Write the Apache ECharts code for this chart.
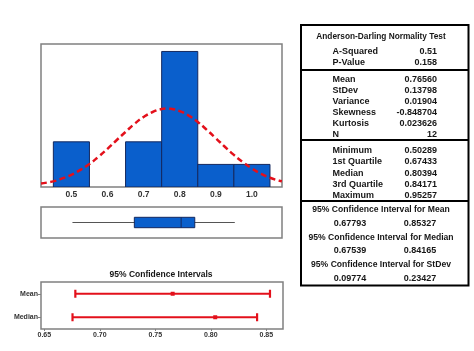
<!DOCTYPE html>
<html><head><meta charset="utf-8">
<script src="https://cdn.jsdelivr.net/npm/echarts@6/dist/echarts.min.js"></script>
<style>html,body{margin:0;padding:0;background:#fff}#c{width:474px;height:351px}</style>
</head><body><div id="c"></div>
<script>
// ---- data ----
const binStarts = [0.45, 0.55, 0.65, 0.75, 0.85, 0.95];
const binEnds   = [0.55, 0.65, 0.75, 0.85, 0.95, 1.05];
const binCounts = [2, 0, 2, 6, 1, 1];
const curveX = [0.416, 0.45, 0.475, 0.50, 0.525, 0.55, 0.575, 0.60, 0.625, 0.65, 0.675, 0.70, 0.725, 0.75, 0.7656, 0.775, 0.80, 0.825, 0.85, 0.875, 0.90, 0.925, 0.95, 0.975, 1.00, 1.025, 1.05, 1.075, 1.083];
const curveY = [0.16, 0.25, 0.38, 0.54, 0.76, 1.02, 1.34, 1.69, 2.07, 2.44, 2.80, 3.10, 3.32, 3.45, 3.47, 3.46, 3.36, 3.16, 2.88, 2.53, 2.16, 1.78, 1.42, 1.10, 0.82, 0.59, 0.41, 0.28, 0.25];
const histTicks = [0.5, 0.6, 0.7, 0.8, 0.9, 1.0];
const boxStats = [0.50289, 0.67433, 0.80394, 0.84171, 0.95257]; // min, Q1, median, Q3, max
const ciNames  = ['Mean', 'Median'];
const ciLow    = [0.67793, 0.67539];
const ciHigh   = [0.85327, 0.84165];
const ciCenter = [0.76560, 0.80394];
const ciTicks  = [0.65, 0.70, 0.75, 0.80, 0.85];
const adTitle  = 'Anderson-Darling Normality Test';
const adLabels = ['A-Squared', 'P-Value'];
const adValues = ['0.51', '0.158'];
const descLabels = ['Mean', 'StDev', 'Variance', 'Skewness', 'Kurtosis', 'N'];
const descValues = ['0.76560', '0.13798', '0.01904', '-0.848704', '0.023626', '12'];
const quartLabels = ['Minimum', '1st Quartile', 'Median', '3rd Quartile', 'Maximum'];
const quartValues = ['0.50289', '0.67433', '0.80394', '0.84171', '0.95257'];
const ciTitles = ['95% Confidence Interval for Mean', '95% Confidence Interval for Median', '95% Confidence Interval for StDev'];
const ciLowVals  = ['0.67793', '0.67539', '0.09774'];
const ciHighVals = ['0.85327', '0.84165', '0.23427'];

// ---- styles ----
const BLUE = '#0a5fcc', NAVY = '#14285e', RED = '#e3101b', FRAME = '#808080';
const FONT = '"Liberation Sans", Arial, sans-serif';
const tFont = (s) => 'bold ' + s + 'px ' + FONT;

function txt(text, x, y, align, size) {
  return { type: 'text', silent: true, style: {
    text: text, x: x, y: y, font: tFont(size || 9), fill: '#161616',
    align: align, verticalAlign: 'middle', textAlign: align, textVerticalAlign: 'middle' } };
}

const chart = echarts.init(document.getElementById('c'), null, { renderer: 'canvas' });

const graphics = [];
// table frame
graphics.push({ type: 'rect', silent: true, shape: { x: 301, y: 25, width: 167.5, height: 260.5 },
  style: { fill: 'none', stroke: '#000', lineWidth: 2 } });
[70, 140, 201].forEach(y => graphics.push({ type: 'line', silent: true,
  shape: { x1: 301, y1: y, x2: 468.5, y2: y }, style: { stroke: '#000', lineWidth: 2 } }));
const LX = 332.5, RX = 437, CX = 381;
graphics.push(txt(adTitle, CX, 36.7, 'center', 8.3));
adLabels.forEach((l, i) => { const y = 51.7 + 10.7 * i; graphics.push(txt(l, LX, y, 'left')); graphics.push(txt(adValues[i], RX, y, 'right')); });
descLabels.forEach((l, i) => { const y = 79.3 + 11 * i; graphics.push(txt(l, LX, y, 'left')); graphics.push(txt(descValues[i], RX, y, 'right')); });
quartLabels.forEach((l, i) => { const y = 150.7 + 11.3 * i; graphics.push(txt(l, LX, y, 'left')); graphics.push(txt(quartValues[i], RX, y, 'right')); });
ciTitles.forEach((t, i) => {
  const y = 210 + 27.5 * i;
  graphics.push(txt(t, CX, y, 'center', 8.6));
  graphics.push(txt(ciLowVals[i], 350, y + 13.5, 'center'));
  graphics.push(txt(ciHighVals[i], 420, y + 13.5, 'center'));
});
graphics.push(txt('95% Confidence Intervals', 161, 274.5, 'center', 8.5));

const option = {
  animation: false,
  backgroundColor: '#fff',
  grid: [
    { left: 41, top: 44, width: 241, height: 143, show: true, borderColor: FRAME, borderWidth: 1.5, outerBoundsMode: 'none' },
    { left: 41, top: 207, width: 241, height: 31, show: true, borderColor: FRAME, borderWidth: 1.5, outerBoundsMode: 'none' },
    { left: 41, top: 282, width: 242, height: 47, show: true, borderColor: FRAME, borderWidth: 1.5, outerBoundsMode: 'none' }
  ],
  xAxis: [
    { type: 'value', gridIndex: 0, min: 0.4158, max: 1.0833, splitLine: { show: false },
      axisLine: { show: false }, axisTick: { show: false },
      axisLabel: { customValues: histTicks, formatter: v => v.toFixed(1), fontSize: 8.5, fontWeight: 'bold', color: '#333', margin: 3, fontFamily: FONT } },
    { type: 'value', gridIndex: 1, min: 0.4158, max: 1.0833, show: false, splitLine: { show: false } },
    { type: 'value', gridIndex: 2, min: 0.647, max: 0.865, splitLine: { show: false },
      axisLine: { show: false },
      axisTick: { show: true, customValues: ciTicks, length: 2, lineStyle: { color: FRAME } },
      axisLabel: { customValues: ciTicks, formatter: v => v.toFixed(2), fontSize: 7, fontWeight: 'bold', color: '#333', margin: 3, fontFamily: FONT } }
  ],
  yAxis: [
    { type: 'value', gridIndex: 0, min: 0, max: 6.33, show: false, splitLine: { show: false } },
    { type: 'value', gridIndex: 1, min: 0, max: 1, show: false, splitLine: { show: false } },
    { type: 'category', gridIndex: 2, data: ciNames, inverse: true, splitLine: { show: false },
      axisLine: { show: false },
      axisTick: { show: true, alignWithLabel: true, length: 3, lineStyle: { color: FRAME } },
      axisLabel: { fontSize: 7, fontWeight: 'bold', color: '#333', margin: 3, fontFamily: FONT } }
  ],
  series: [
    { type: 'custom', xAxisIndex: 0, yAxisIndex: 0, clip: true,
      data: binStarts.map((s, i) => [s, binEnds[i], binCounts[i]]),
      encode: { x: [0, 1], y: 2 },
      renderItem: (params, api) => {
        if (api.value(2) <= 0) return null;
        const p0 = api.coord([api.value(0), 0]);
        const p1 = api.coord([api.value(1), api.value(2)]);
        return { type: 'rect', shape: { x: p0[0], y: p1[1], width: p1[0] - p0[0], height: p0[1] - p1[1] },
          style: { fill: BLUE, stroke: NAVY, lineWidth: 1 } };
      } },
    { type: 'line', xAxisIndex: 0, yAxisIndex: 0, smooth: true, symbol: 'none', clip: true,
      data: curveX.map((x, i) => [x, curveY[i]]),
      lineStyle: { color: RED, width: 2.5, type: [6, 3.5] }, z: 5 },
    { type: 'custom', xAxisIndex: 1, yAxisIndex: 1,
      data: [boxStats.concat([0.5])],
      renderItem: (params, api) => {
        const yv = api.value(5);
        const pMin = api.coord([api.value(0), yv]), pQ1 = api.coord([api.value(1), yv]);
        const pMed = api.coord([api.value(2), yv]), pQ3 = api.coord([api.value(3), yv]);
        const pMax = api.coord([api.value(4), yv]);
        const h = 10.4, cy = pMin[1];
        return { type: 'group', children: [
          { type: 'line', shape: { x1: pMin[0], y1: cy, x2: pMax[0], y2: cy }, style: { stroke: '#555', lineWidth: 1 } },
          { type: 'rect', shape: { x: pQ1[0], y: cy - h / 2, width: pQ3[0] - pQ1[0], height: h }, style: { fill: BLUE, stroke: NAVY, lineWidth: 1 } },
          { type: 'line', shape: { x1: pMed[0], y1: cy - h / 2, x2: pMed[0], y2: cy + h / 2 }, style: { stroke: NAVY, lineWidth: 1 } }
        ] };
      } },
    { type: 'custom', xAxisIndex: 2, yAxisIndex: 2,
      data: ciNames.map((n, i) => [i, ciLow[i], ciHigh[i], ciCenter[i]]),
      encode: { y: 0, x: [1, 2, 3] },
      renderItem: (params, api) => {
        const c = api.value(0);
        const pL = api.coord([api.value(1), c]), pH = api.coord([api.value(2), c]), pC = api.coord([api.value(3), c]);
        const cy = pL[1], ch = 4;
        const st = { stroke: RED, lineWidth: 2.2 };
        return { type: 'group', children: [
          { type: 'line', shape: { x1: pL[0], y1: cy, x2: pH[0], y2: cy }, style: st },
          { type: 'line', shape: { x1: pL[0], y1: cy - ch, x2: pL[0], y2: cy + ch }, style: st },
          { type: 'line', shape: { x1: pH[0], y1: cy - ch, x2: pH[0], y2: cy + ch }, style: st },
          { type: 'rect', shape: { x: pC[0] - 2, y: cy - 2, width: 4, height: 4 }, style: { fill: RED } }
        ] };
      } }
  ],
  graphic: graphics
};
chart.setOption(option);
</script></body></html>
